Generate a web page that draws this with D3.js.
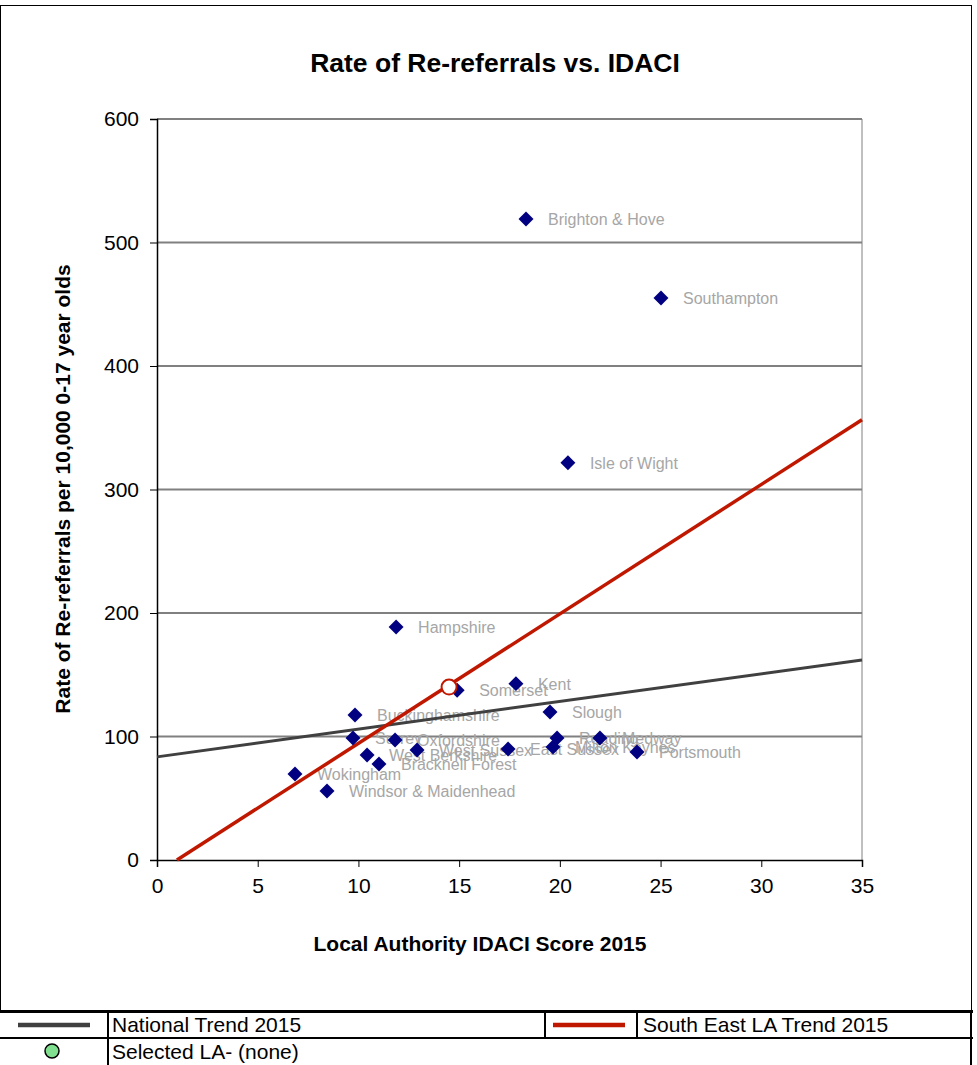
<!DOCTYPE html>
<html><head><meta charset="utf-8">
<script src="https://cdn.jsdelivr.net/npm/d3@7"></script>
<style>body{margin:0;background:#fff}svg{display:block;font-family:"Liberation Sans",Arial,sans-serif}</style>
</head><body><svg id="c" width="977" height="1065"></svg>
<script>
const names = ["Brighton & Hove","Southampton","Isle of Wight","Hampshire","Somerset","Kent","Slough","Buckinghamshire","Surrey","Oxfordshire","West Berkshire","Bracknell Forest","West Sussex","Wokingham","Windsor & Maidenhead","East Sussex","Reading","Milton Keynes","Medway","Portsmouth"];
const idaci = [18.32,25.02,20.40,11.87,14.90,17.82,19.51,9.83,9.73,11.82,10.43,11.02,12.91,6.85,8.44,17.43,19.86,19.66,21.99,23.83];
const rate  = [519,455,321.6,188.7,137.5,142.8,119.8,117.4,98.8,97.2,85.0,77.7,89.1,69.6,55.9,89.9,98.8,91.5,98.8,87.4];
const nationalTrend = [[0,83.5],[35,162]];
const seTrend = [[0.99,0],[35,356.5]];
const seMean = [14.5,140];
const xTicks = [0,5,10,15,20,25,30,35];
const yTicks = [0,100,200,300,400,500,600];

const svg = d3.select("#c");
const x = d3.scaleLinear().domain([0,35]).range([157,862]);
const y = d3.scaleLinear().domain([0,600]).range([860,119]);

// outer border
svg.append("rect").attr("x",0.5).attr("y",5.5).attr("width",971).attr("height",1006).attr("fill","none").attr("stroke","#000").attr("stroke-width",1);

// title
svg.append("text").attr("x",495).attr("y",72).attr("text-anchor","middle").attr("font-size",26.5).attr("font-weight","bold").text("Rate of Re-referrals vs. IDACI");

// gridlines
svg.append("g").selectAll("line").data(yTicks.filter(d=>d>0)).join("line")
  .attr("x1",x(0)).attr("x2",x(35)).attr("y1",d=>y(d)).attr("y2",d=>y(d))
  .attr("stroke","#808080").attr("stroke-width",2);
svg.append("line").attr("x1",x(35)).attr("x2",x(35)).attr("y1",y(600)).attr("y2",y(0)).attr("stroke","#808080").attr("stroke-width",1);

// axes
const gy = svg.append("g").attr("transform",`translate(${x(0)},0)`).call(d3.axisLeft(y).tickValues(yTicks).tickSize(7).tickPadding(11));
const gx = svg.append("g").attr("transform",`translate(0,${y(0)})`).call(d3.axisBottom(x).tickValues(xTicks).tickSize(7).tickPadding(11));
[gx,gy].forEach(g=>{g.select(".domain").attr("stroke","#000").attr("stroke-width",1.5);
  g.selectAll(".tick line").attr("stroke","#000");
  g.selectAll(".tick text").attr("font-size",21).attr("fill","#000").attr("font-family","Liberation Sans, Arial, sans-serif");});

// axis titles
svg.append("text").attr("transform","translate(70,489) rotate(-90)").attr("text-anchor","middle").attr("font-size",21).attr("font-weight","bold").text("Rate of Re-referrals per 10,000 0-17 year olds");
svg.append("text").attr("x",480).attr("y",951).attr("text-anchor","middle").attr("font-size",21).attr("font-weight","bold").text("Local Authority IDACI Score 2015");

const pts = names.map((n,i)=>({n,x:idaci[i],y:rate[i]}));

// labels
svg.append("g").selectAll("text").data(pts).join("text")
  .attr("x",d=>x(d.x)+22).attr("y",d=>y(d.y)+6).attr("font-size",16).attr("fill","#A6A6A6").text(d=>d.n);

// trend lines
const line = d3.line().x(d=>x(d[0])).y(d=>y(d[1]));
svg.append("path").attr("d",line(nationalTrend)).attr("stroke","#404040").attr("stroke-width",3).attr("fill","none");
svg.append("path").attr("d",line(seTrend)).attr("stroke","#C01800").attr("stroke-width",3.5).attr("fill","none");

// points
const dia = d3.symbol().type(d3.symbolSquare).size(112);
svg.append("g").selectAll("path").data(pts).join("path")
  .attr("d",dia).attr("transform",d=>`translate(${x(d.x)},${y(d.y)}) rotate(45)`).attr("fill","#000080");

// SE mean marker
svg.append("circle").attr("cx",x(seMean[0])).attr("cy",y(seMean[1])).attr("r",7.5).attr("fill","#fff").attr("stroke","#C01800").attr("stroke-width",2);

// legend table
const L = svg.append("g");
const hl = (x1,x2,yy,w)=>L.append("line").attr("x1",x1).attr("x2",x2).attr("y1",yy).attr("y2",yy).attr("stroke","#000").attr("stroke-width",w);
const vl = (xx,y1,y2,w)=>L.append("line").attr("x1",xx).attr("x2",xx).attr("y1",y1).attr("y2",y2).attr("stroke","#000").attr("stroke-width",w);
hl(0,973,1011.5,3);
hl(0,973,1038,2);
vl(108,1011,1065,2);
vl(545,1011,1038,2);
vl(637,1011,1038,2);
vl(971,1011,1065,2);
L.append("line").attr("x1",18).attr("x2",90).attr("y1",1025).attr("y2",1025).attr("stroke","#404040").attr("stroke-width",4.5);
L.append("line").attr("x1",553).attr("x2",625).attr("y1",1025).attr("y2",1025).attr("stroke","#C01800").attr("stroke-width",4.5);
L.append("circle").attr("cx",52).attr("cy",1051).attr("r",7).attr("fill","#80E090").attr("stroke","#000").attr("stroke-width",1.5);
L.append("text").attr("x",112).attr("y",1032).attr("font-size",21).text("National Trend 2015");
L.append("text").attr("x",643).attr("y",1032).attr("font-size",21).text("South East LA Trend 2015");
L.append("text").attr("x",112).attr("y",1059).attr("font-size",21).text("Selected LA- (none)");
</script></body></html>
